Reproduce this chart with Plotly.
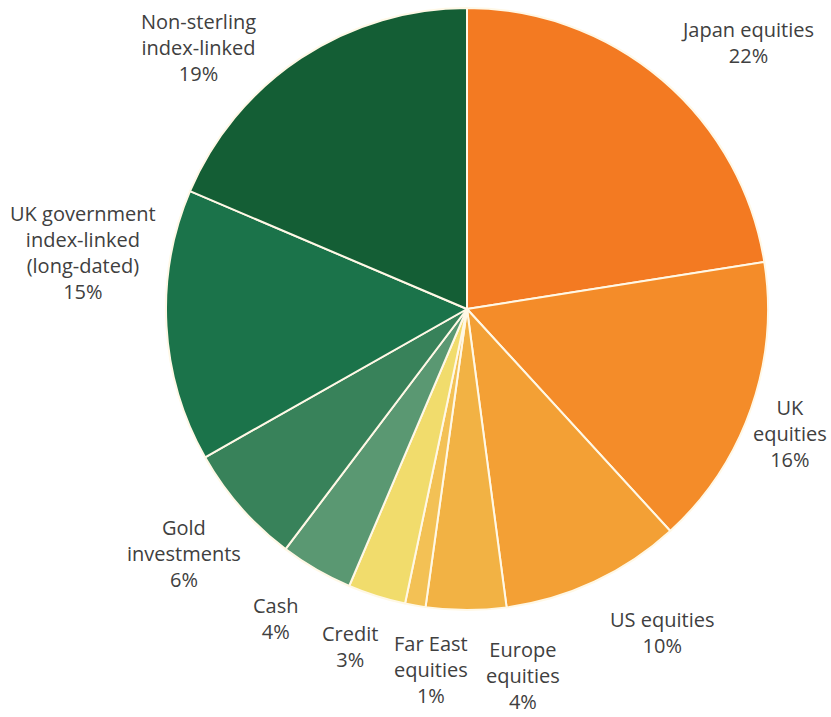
import plotly.graph_objects as go

W, H = 831, 717

labels = ["Japan equities", "UK<br>equities", "US equities", "Europe<br>equities",
          "Far East<br>equities", "Credit", "Cash", "Gold<br>investments",
          "UK government<br>index-linked<br>(long-dated)", "Non-sterling<br>index-linked"]
values = [22.5, 15.7, 9.7, 4.3, 1.1, 3.1, 3.9, 6.5, 14.6, 18.6]
pct_text = ["22%", "16%", "10%", "4%", "1%", "3%", "4%", "6%", "15%", "19%"]
colors = ["#F37A22", "#F48C29", "#F3A035", "#F2B244", "#F3C155",
          "#F1DC6C", "#5A9872", "#38825A", "#1B734A", "#145E35"]

# label block centres (pixels in the 831x717 canvas) - layout only
label_pos = [(747, 42), (790, 433), (662, 632), (523, 675), (431, 669),
             (350, 646), (276, 618), (184, 553), (83, 253), (198, 48)]

fig = go.Figure(go.Pie(
    labels=[l.replace("<br>", " ") for l in labels],
    values=values,
    textinfo="none",
    sort=False,
    direction="clockwise",
    rotation=0,
    marker=dict(colors=colors, line=dict(color="#FFF8E6", width=2)),
    showlegend=False,
    hoverinfo="skip",
    domain=dict(x=[166 / W, 768 / W], y=[1 - 610 / H, 1 - 8 / H]),
))

for l, p, (px, py) in zip(labels, pct_text, label_pos):
    fig.add_annotation(
        x=px / W, y=1 - py / H, xref="paper", yref="paper",
        text=f"{l}<br>{p}", showarrow=False,
        xanchor="center", yanchor="middle", align="center",
        font=dict(family="Open Sans", size=20, color="#404040"),
    )

fig.update_layout(
    width=W, height=H,
    margin=dict(l=0, r=0, t=0, b=0),
    paper_bgcolor="white",
    plot_bgcolor="white",
)
fig.write_html("out.html")
